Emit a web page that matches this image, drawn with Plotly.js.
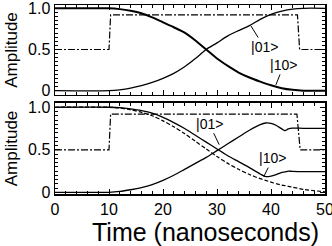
<!DOCTYPE html>
<html><head><meta charset="utf-8">
<script src="https://cdn.plot.ly/plotly-3.0.1.min.js"></script>
<style>html,body{margin:0;padding:0;background:#fff}#c{width:332px;height:246px}</style>
</head><body><div id="c"></div>
<script>
// ---- data ----
const tStep = [0, 10, 10.3, 44.9, 45.3, 50];
const stepTop = [0.5, 0.5, 0.92, 0.92, 0.5, 0.5];
const tStepBot = [0, 10, 10.3, 44.8, 45.4, 50];
const stepBot = [0.5, 0.5, 0.92, 0.92, 0.5, 0.5];

const tTop = [0, 10, 12, 14, 16, 18, 20, 22, 24, 26, 28, 30, 32, 34, 36, 38, 40, 42, 44, 46, 50];
const top01 = [0, 0, 0.01, 0.03, 0.06, 0.10, 0.15, 0.21, 0.29, 0.39, 0.50, 0.58, 0.665, 0.73, 0.79, 0.865, 0.925, 0.965, 0.99, 1.0, 1.0];
const top10 = [1, 1, 0.99, 0.97, 0.94, 0.89, 0.83, 0.77, 0.705, 0.61, 0.50, 0.39, 0.30, 0.22, 0.16, 0.11, 0.065, 0.03, 0.01, 0, 0];

const tBot = [0, 10, 12, 14, 16, 18, 20, 22, 24, 26, 28, 30, 32, 34, 36, 38, 39, 40, 41, 42, 42.6, 43.2, 44, 46, 50];
const bot01 = [0, 0, 0.01, 0.03, 0.055, 0.09, 0.14, 0.2, 0.27, 0.34, 0.41, 0.49, 0.57, 0.65, 0.73, 0.795, 0.815, 0.81, 0.785, 0.745, 0.725, 0.745, 0.755, 0.752, 0.752];
const bot10 = [1, 1, 0.995, 0.98, 0.96, 0.93, 0.88, 0.82, 0.75, 0.67, 0.59, 0.51, 0.43, 0.36, 0.29, 0.215, 0.185, 0.19, 0.21, 0.235, 0.24, 0.25, 0.245, 0.243, 0.243];
const botIdeal = [1, 1, 0.99, 0.97, 0.94, 0.90, 0.84, 0.77, 0.69, 0.60, 0.51, 0.42, 0.34, 0.27, 0.21, 0.16, 0.14, 0.12, 0.10, 0.085, 0.078, 0.07, 0.06, 0.035, 0.005];

const xTickVals = [0, 10, 20, 30, 40, 50];
const xTickText = ['0', '10', '20', '30', '40', '50'];
const yTickVals = [0, 0.5, 1.0];
const yTickText = ['0', '0.5', '1.0'];
const labels = ['|01>', '|10>'];
const xTitle = 'Time (nanoseconds)';
const yTitle = 'Amplitude';

// ---- styles ----
const F = 'Liberation Sans, Arial, Helvetica, sans-serif';
const DASHDOT = '7px,2px,2px,2px';
const solid = {color: '#000', width: 1.3, shape: 'spline', smoothing: 0.8};

const traces = [
  {x: tStep, y: stepTop, xaxis: 'x', yaxis: 'y', mode: 'lines', line: {color: '#000', width: 1.2, dash: DASHDOT}},
  {x: tTop, y: top01, xaxis: 'x', yaxis: 'y', mode: 'lines', line: solid},
  {x: tTop, y: top10, xaxis: 'x', yaxis: 'y', mode: 'lines', line: Object.assign({}, solid, {width: 2.0})},
  {x: tStepBot, y: stepBot, xaxis: 'x2', yaxis: 'y2', mode: 'lines', line: {color: '#000', width: 1.2, dash: DASHDOT}},
  {x: tBot, y: bot01, xaxis: 'x2', yaxis: 'y2', mode: 'lines', line: solid},
  {x: tBot, y: bot10, xaxis: 'x2', yaxis: 'y2', mode: 'lines', line: solid},
  {x: tBot, y: botIdeal, xaxis: 'x2', yaxis: 'y2', mode: 'lines', line: {color: '#000', width: 1.2, dash: '4px,2px', shape: 'spline', smoothing: 0.8}}
];

const axBase = {
  showline: true, linecolor: '#000', linewidth: 1.5, mirror: 'allticks',
  ticks: 'inside', ticklen: 5, tickwidth: 1, tickcolor: '#000',
  showgrid: false, zeroline: false, ticklabeloverflow: 'allow',
  tickfont: {family: F, size: 16, color: '#000'}
};
const xa = Object.assign({}, axBase, {range: [0, 50], tickvals: xTickVals, ticktext: xTickText,
  minor: {dtick: 2, ticklen: 3, tickcolor: '#000', ticks: 'inside'}});
const ya = Object.assign({}, axBase, {tickvals: yTickVals, ticktext: yTickText,
  minor: {dtick: 0.05, tick0: 0, ticklen: 3, tickcolor: '#000', ticks: 'inside'},
  title: {text: yTitle, font: {family: F, size: 17, color: '#000'}, standoff: 6}});

const layout = {
  width: 332, height: 246,
  margin: {l: 55, r: 7, t: 5, b: 52},
  paper_bgcolor: '#fff', plot_bgcolor: '#fff',
  showlegend: false,
  xaxis: Object.assign({}, xa, {anchor: 'y', showticklabels: false}),
  yaxis: Object.assign({}, ya, {domain: [0.524, 1], range: [-0.052, 1.04], anchor: 'x'}),
  xaxis2: Object.assign({}, xa, {anchor: 'y2'}),
  yaxis2: Object.assign({}, ya, {domain: [0, 0.4815], range: [-0.02, 1.05], anchor: 'x2'}),
  annotations: [
    {xref: 'x', yref: 'y', x: 36.3, y: 0.785, ax: 13, ay: 21, text: labels[0]},
    {xref: 'x', yref: 'y', x: 40.9, y: 0.07, ax: 8, ay: -20, text: labels[1]},
    {xref: 'x2', yref: 'y2', x: 30.4, y: 0.56, ax: -10, ay: -21, text: labels[0]},
    {xref: 'x2', yref: 'y2', x: 38.7, y: 0.19, ax: 9, ay: -18, text: labels[1]}
  ].map(a => Object.assign(a, {showarrow: true, arrowhead: 0, arrowwidth: 1, arrowcolor: '#000',
     font: {family: F, size: 14, color: '#000'}})).concat([
    {xref: 'paper', yref: 'paper', x: 0.557, y: -0.2, xanchor: 'center', yanchor: 'middle',
     showarrow: false, text: xTitle, font: {family: F, size: 25, color: '#000'}}
  ])
};

Plotly.newPlot('c', traces, layout, {staticPlot: true, displayModeBar: false});
</script></body></html>
